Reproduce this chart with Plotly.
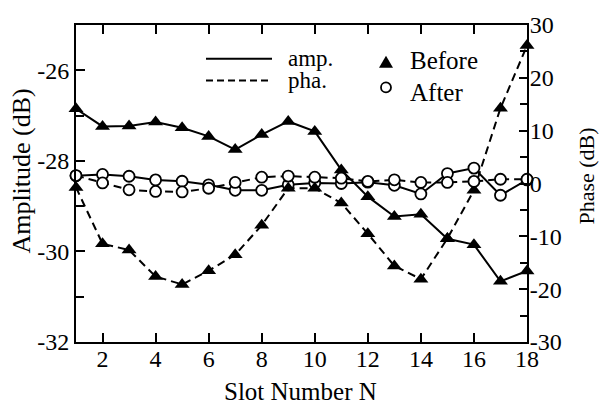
import plotly.graph_objects as go

slots = list(range(1, 19))
amp_before = [-26.85, -27.24, -27.23, -27.14, -27.27, -27.46, -27.75, -27.42, -27.13,
              -27.35, -28.20, -28.79, -29.23, -29.18, -29.72, -29.85, -30.66, -30.43]
amp_after = [-28.33, -28.30, -28.34, -28.42, -28.45, -28.53, -28.65, -28.65, -28.53,
             -28.49, -28.50, -28.47, -28.54, -28.73, -28.28, -28.16, -28.76, -28.42]
pha_before = [-0.75, -11.4, -12.6, -17.6, -19.1, -16.5, -13.5, -7.9, -0.9,
              -0.9, -3.7, -9.5, -15.6, -18.1, -10.4, -1.3, 14.25, 26.1]
pha_after = [1.5, 0.1, -1.2, -1.5, -1.6, -0.9, 0.2, 1.2, 1.4,
             1.2, 1.0, 0.4, 0.7, 0.2, 0.2, 0.4, 0.8, 0.8]

x_ticks = [2, 4, 6, 8, 10, 12, 14, 16, 18]
amp_ticks = [-32, -30, -28, -26]
pha_ticks = [-30, -20, -10, 0, 10, 20, 30]

FONT = "Liberation Serif"
tri = dict(symbol="triangle-up", size=13, color="black", line=dict(width=0))
circ = dict(symbol="circle", size=11, color="white", line=dict(width=1.8, color="black"))
DASH = "8px,5px"

fig = go.Figure()
fig.add_trace(go.Scatter(x=slots, y=pha_before, yaxis="y2", mode="lines+markers",
                         line=dict(color="black", width=2, dash=DASH), marker=tri, cliponaxis=False))
fig.add_trace(go.Scatter(x=slots, y=pha_after, yaxis="y2", mode="lines+markers",
                         line=dict(color="black", width=2, dash=DASH), marker=circ, cliponaxis=False))
fig.add_trace(go.Scatter(x=slots, y=amp_before, mode="lines+markers",
                         line=dict(color="black", width=2), marker=tri, cliponaxis=False))
fig.add_trace(go.Scatter(x=slots, y=amp_after, mode="lines+markers",
                         line=dict(color="black", width=2), marker=circ, cliponaxis=False))

axis_common = dict(showline=True, linecolor="black", linewidth=2, ticks="inside",
                   tickcolor="black", tickwidth=1.5, showgrid=False, zeroline=False,
                   tickfont=dict(family=FONT, size=24, color="black"))

fig.update_layout(
    width=599, height=406,
    margin=dict(l=76, r=72, t=22, b=64),
    paper_bgcolor="white", plot_bgcolor="white",
    showlegend=False,
    font=dict(family=FONT, color="black"),
    xaxis=dict(range=[1, 18], tickvals=x_ticks, ticktext=[str(v) for v in x_ticks],
               ticklen=9, mirror="ticks", ticklabelstandoff=-6, **axis_common),
    yaxis=dict(range=[-32, -25], tickvals=amp_ticks, ticktext=[str(v) for v in amp_ticks],
               ticklen=9,
               minor=dict(dtick=1, ticks="inside", ticklen=8, tickcolor="black", tickwidth=1.5),
               **axis_common),
    yaxis2=dict(range=[-30, 30], tickvals=pha_ticks, ticktext=[str(v) for v in pha_ticks],
                ticklen=8, overlaying="y", side="right", ticklabelstandoff=-4,
                minor=dict(dtick=5, ticks="inside", ticklen=7, tickcolor="black", tickwidth=1.5),
                **axis_common),
)

def px(xp):
    return (xp - 76) / 451

def py(yp):
    return (342 - yp) / 320

anns = [
    dict(text="Amplitude (dB)", x=px(22), y=py(170), textangle=-90, font=dict(size=26)),
    dict(text="Phase (dB)", x=px(587), y=py(175), textangle=-90, font=dict(size=22)),
    dict(text="Slot Number N", x=px(300), y=py(392), font=dict(size=25)),
    dict(text="amp.", x=px(286), y=py(56), xanchor="left", font=dict(size=23)),
    dict(text="pha.", x=px(286), y=py(78), xanchor="left", font=dict(size=23)),
    dict(text="Before", x=px(408), y=py(58), xanchor="left", font=dict(size=25)),
    dict(text="After", x=px(408), y=py(90), xanchor="left", font=dict(size=25)),
]
for a in anns:
    a.update(xref="paper", yref="paper", showarrow=False)
    a["font"].update(family=FONT, color="black")
    a.setdefault("xanchor", "center")
    a.setdefault("yanchor", "middle")
fig.update_layout(annotations=anns)

shapes = [
    dict(type="line", xref="paper", yref="paper", x0=px(206), x1=px(272), y0=py(56), y1=py(56),
         line=dict(color="black", width=2)),
    dict(type="line", xref="paper", yref="paper", x0=px(206), x1=px(272), y0=py(78), y1=py(78),
         line=dict(color="black", width=2, dash="7px,4px")),
    dict(type="path", xref="paper", yref="paper", xsizemode="pixel", ysizemode="pixel",
         xanchor=px(386), yanchor=py(59), path="M-7,-6 L7,-6 L0,6 Z",
         fillcolor="black", line=dict(width=0)),
    dict(type="circle", xref="paper", yref="paper", xsizemode="pixel", ysizemode="pixel",
         xanchor=px(386), yanchor=py(85), x0=-5, x1=5, y0=-5, y1=5,
         fillcolor="white", line=dict(color="black", width=1.8)),
]
fig.update_layout(shapes=shapes)

fig.write_html("out.html", config={"displayModeBar": False},
               post_script="document.body.style.margin='0';")
